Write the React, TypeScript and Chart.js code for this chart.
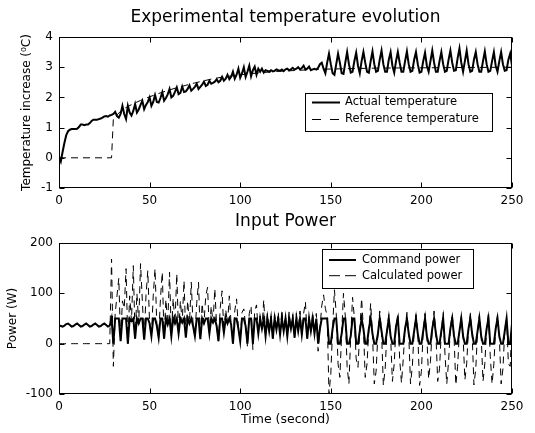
import React, { useEffect, useRef } from "react";
import { Chart, registerables } from "chart.js";

Chart.register(...registerables);

const FONT = "'DejaVu Sans', 'Liberation Sans', Arial, sans-serif";

// sampling grid, seconds (1 s sampling)
const TIME_S: number[] = Array.from({ length: 251 }, (_, i) => i);

const X_TICKS = [0, 50, 100, 150, 200, 250];
const TEMP_TICKS = [-1, 0, 1, 2, 3, 4];
const POWER_TICKS = [-100, 0, 100, 200];

// Actual temperature increase (°C), one value per second 0..250
const ACTUAL_TEMP = [
  0.05, -0.12, 0.2, 0.5, 0.75, 0.88, 0.93, 0.95, 0.95, 0.95,
  0.96, 1.02, 1.1, 1.1, 1.08, 1.1, 1.1, 1.15, 1.22, 1.26,
  1.26, 1.26, 1.28, 1.3, 1.33, 1.37, 1.38, 1.36, 1.4, 1.42,
  1.45, 1.52, 1.38, 1.33, 1.45, 1.72, 1.45, 1.28, 1.72, 1.5,
  1.4, 1.55, 1.78, 1.5, 1.6, 1.75, 1.89, 1.61, 1.75, 1.85,
  2.0, 1.72, 1.85, 2.08, 1.85, 1.83, 1.98, 2.17, 1.89, 1.98,
  2.1, 2.28, 2.0, 2.05, 2.18, 2.33, 2.11, 2.15, 2.36, 2.18,
  2.2, 2.28, 2.4, 2.22, 2.28, 2.35, 2.45, 2.28, 2.35, 2.42,
  2.52, 2.38, 2.42, 2.55, 2.45, 2.48, 2.52, 2.6, 2.5, 2.55,
  2.68, 2.55, 2.62, 2.75, 2.6, 2.68, 2.85, 2.62, 2.75, 2.95,
  2.65, 2.8, 3.0, 2.68, 2.85, 3.05, 2.7, 2.9, 3.02, 2.75,
  2.95, 2.85, 2.95, 2.82, 2.9, 2.88, 2.85, 2.9, 2.86, 2.88,
  2.93, 2.9, 2.88, 2.92, 2.87, 2.93, 2.95, 2.9, 2.93, 2.98,
  2.92, 2.95, 3.0, 2.93, 2.97, 3.05, 2.92, 2.95, 3.02, 2.9,
  2.93, 2.95, 2.92, 2.98, 3.1, 3.15, 2.95, 2.8, 3.15, 3.45,
  3.1, 2.8, 2.75, 3.1, 3.45, 3.15, 2.8, 2.78, 3.15, 3.5,
  3.1, 2.82, 2.85, 3.2, 3.48, 3.05, 2.8, 3.2, 3.5, 3.15,
  2.85, 2.82, 3.2, 3.52, 3.1, 2.85, 2.88, 3.25, 3.55, 3.1,
  2.85, 2.85, 3.25, 3.5, 3.05, 2.82, 3.2, 3.5, 3.15, 2.85,
  2.85, 3.2, 3.52, 3.1, 2.85, 2.88, 3.25, 3.5, 3.1, 2.82,
  2.85, 3.2, 3.48, 3.05, 2.85, 3.2, 3.55, 3.15, 2.85, 2.85,
  3.2, 3.5, 3.1, 2.85, 2.88, 3.25, 3.55, 3.15, 2.88, 2.9,
  3.3, 3.62, 3.15, 2.85, 3.2, 3.55, 3.1, 2.85, 2.88, 3.25,
  3.5, 3.1, 2.85, 2.85, 3.2, 3.52, 3.1, 2.85, 2.88, 3.2,
  3.5, 3.05, 2.85, 3.2, 3.5, 3.1, 2.88, 2.9, 3.25, 3.45,
  3.05,
];

// Reference temperature (°C)
const REF_TIME = [0, 29, 30, 35, 40, 45, 50, 55, 60, 65, 70, 75, 80, 85, 90, 95, 100, 110, 120, 130, 140, 150, 175, 200, 225, 250];
const REF_TEMP = [0, 0, 1.3, 1.6, 1.76, 1.9, 2.02, 2.13, 2.23, 2.32, 2.4, 2.48, 2.55, 2.62, 2.67, 2.71, 2.75, 2.81, 2.86, 2.89, 2.92, 2.94, 2.97, 2.98, 2.99, 3.0];

// Command power (W), one value per second 0..250
const COMMAND_POWER = [
  37, 35, 34, 36, 39, 40, 37, 34, 35, 38,
  40, 37, 34, 35, 38, 40, 37, 34, 35, 38,
  40, 37, 34, 35, 38, 40, 37, 34, 36, 50,
  0, 50, 50, 50, 5, 50, 50, 50, 0, 50,
  45, 50, 10, 50, 40, 50, 50, 8, 50, 50,
  40, 15, 50, 50, 35, 12, 50, 50, 10, 50,
  38, 50, 15, 50, 40, 50, 20, 50, 42, 50,
  12, 50, 40, 50, 35, 15, 50, 50, 9, 50,
  40, 50, 50, 20, 50, 42, 50, 35, 5, 50,
  50, 22, 50, 40, 50, 38, 0, 50, 50, 30,
  5, 50, 50, 35, 0, 50, 50, 0, 50, 50,
  20, 50, 30, 50, 15, 50, 25, 50, 10, 50,
  28, 50, 18, 50, 25, 50, 15, 50, 30, 50,
  12, 50, 25, 50, 18, 50, 50, 10, 50, 25,
  50, 20, 50, 0, 30, 50, 50, 50, 50, 0,
  0, 30, 50, 50, 0, 0, 20, 50, 50, 0,
  0, 15, 50, 50, 0, 0, 25, 50, 30, 0,
  0, 30, 50, 20, 0, 0, 20, 50, 25, 0,
  0, 25, 50, 15, 0, 0, 35, 50, 0, 0,
  0, 30, 50, 20, 0, 0, 25, 50, 20, 0,
  0, 25, 50, 15, 0, 0, 30, 50, 20, 0,
  0, 25, 50, 0, 0, 0, 30, 50, 15, 0,
  0, 25, 50, 15, 0, 0, 30, 50, 20, 0,
  0, 25, 50, 15, 0, 0, 30, 50, 0, 0,
  0, 30, 50, 15, 0, 0, 25, 50, 0, 0,
  40,
];

// Calculated power (W), one value per second 0..250
const CALC_POWER = [
  0, 0, 0, 0, 0, 0, 0, 0, 0, 0,
  0, 0, 0, 0, 0, 0, 0, 0, 0, 0,
  0, 0, 0, 0, 0, 0, 0, 0, 0, 168,
  -45, 60, 95, 130, 5, 85, 70, 149, 0, 95,
  45, 155, 10, 100, 40, 159, 85, 8, 95, 145,
  40, 15, 95, 149, 35, 12, 90, 142, 10, 88,
  38, 142, 15, 90, 40, 139, 20, 85, 42, 125,
  12, 85, 40, 122, 35, 15, 80, 122, 9, 80,
  40, 95, 112, 20, 75, 42, 109, 35, 5, 72,
  105, 22, 68, 40, 95, 38, 0, 65, 89, 30,
  5, 62, 69, 35, -5, 60, 75, -12, 65, 77,
  20, 55, 30, 87, 15, 60, 25, 55, 10, 58,
  28, 62, 18, 67, 25, 55, 15, 63, 30, 58,
  12, 60, 25, 65, 18, 60, 83, 10, 55, 25,
  62, 20, 60, -15, 30, 75, 97, 70, 55, -100,
  -60, 30, 107, 60, -40, -67, 20, 100, 55, -45,
  -80, 15, 92, 52, -30, -47, 25, 90, 30, -67,
  -40, 30, 80, 20, -80, -55, 20, 65, 25, -83,
  -50, 25, 58, 15, -75, -40, 35, 60, -30, -78,
  -30, 30, 62, 20, -80, -45, 25, 58, 20, -83,
  -55, 25, 60, 15, -70, -35, 30, 65, 20, -75,
  -50, 25, 62, -20, -80, -35, 30, 60, 15, -82,
  -45, 25, 55, 15, -72, -40, 30, 60, 20, -82,
  -50, 25, 58, 15, -75, -40, 30, 62, -25, -80,
  -40, 30, 58, 15, -80, -50, 25, 55, -40, -45,
  40,
];

const toXY = (xs: number[], ys: number[]) => xs.map((x, i) => ({ x, y: ys[i] }));

const frameLegendPlugin = {
  id: "frameLegend",
  afterDraw(chart: any, _args: any, opts: any) {
    const { ctx, chartArea: a, scales } = chart;
    ctx.save();
    ctx.strokeStyle = "#000";
    ctx.lineWidth = 1;
    ctx.setLineDash([]);
    const L = Math.round(a.left) + 0.5;
    const R = Math.round(a.right) - 0.5;
    const T = Math.round(a.top) + 0.5;
    const B = Math.round(a.bottom) - 0.5;
    ctx.strokeRect(L, T, R - L, B - T);
    const tl = 5;
    ctx.beginPath();
    for (const t of scales.x.ticks) {
      const px = Math.round(scales.x.getPixelForValue(t.value)) + 0.5;
      ctx.moveTo(px, B);
      ctx.lineTo(px, B - tl);
      ctx.moveTo(px, T);
      ctx.lineTo(px, T + tl);
    }
    for (const t of scales.y.ticks) {
      const py = Math.round(scales.y.getPixelForValue(t.value)) + 0.5;
      ctx.moveTo(L, py);
      ctx.lineTo(L + tl, py);
      ctx.moveTo(R, py);
      ctx.lineTo(R - tl, py);
    }
    ctx.stroke();

    const lg = opts && opts.legend;
    if (lg) {
      const [x1, y1, x2, y2] = lg.box;
      ctx.fillStyle = "#fff";
      ctx.fillRect(x1, y1, x2 - x1, y2 - y1);
      ctx.strokeStyle = "#000";
      ctx.lineWidth = 1;
      ctx.strokeRect(Math.round(x1) + 0.5, Math.round(y1) + 0.5, Math.round(x2 - x1), Math.round(y2 - y1));
      chart.data.datasets.forEach((ds: any, i: number) => {
        const y = lg.rows[i];
        ctx.beginPath();
        ctx.lineWidth = ds.borderWidth;
        ctx.setLineDash(ds.borderDash ? lg.dash : []);
        ctx.moveTo(lg.sampleX[0], y);
        ctx.lineTo(lg.sampleX[1], y);
        ctx.stroke();
        ctx.setLineDash([]);
        ctx.fillStyle = "#000";
        ctx.font = `${lg.fontSize}px ${FONT}`;
        ctx.textAlign = "left";
        ctx.textBaseline = "middle";
        ctx.fillText(ds.label, lg.textX, y);
      });
    }
    ctx.restore();
  },
};

function axisX(height: number, title?: any) {
  return {
    type: "linear",
    min: 0,
    max: 250,
    afterBuildTicks: (s: any) => {
      s.ticks = X_TICKS.map((v) => ({ value: v }));
    },
    afterFit: (s: any) => {
      s.height = height;
    },
    grid: { display: false, drawTicks: false },
    border: { display: false },
    ticks: { font: { family: FONT, size: 12 }, color: "#000", padding: 6, maxRotation: 0, autoSkip: false },
    title: title || { display: false },
  };
}

function axisY(min: number, max: number, ticks: number[], title: any) {
  return {
    type: "linear",
    min,
    max,
    afterBuildTicks: (s: any) => {
      s.ticks = ticks.map((v) => ({ value: v }));
    },
    afterFit: (s: any) => {
      s.width = 59;
    },
    grid: { display: false, drawTicks: false },
    border: { display: false },
    ticks: { font: { family: FONT, size: 12 }, color: "#000", padding: 6, autoSkip: false },
    title,
  };
}

function topConfig(): any {
  return {
    type: "line",
    data: {
      datasets: [
        {
          label: "Actual temperature",
          data: toXY(TIME_S, ACTUAL_TEMP),
          borderColor: "#000",
          borderWidth: 2,
          pointRadius: 0,
          tension: 0,
          fill: false,
        },
        {
          label: "Reference temperature",
          data: toXY(REF_TIME, REF_TEMP),
          borderColor: "#000",
          borderWidth: 1,
          borderDash: [7, 5],
          pointRadius: 0,
          tension: 0,
          fill: false,
        },
      ],
    },
    options: {
      animation: false,
      responsive: false,
      maintainAspectRatio: false,
      events: [],
      layout: { padding: { left: 0, right: 23, top: 0, bottom: 0 } },
      plugins: {
        legend: { display: false },
        tooltip: { enabled: false },
        title: {
          display: true,
          text: "Experimental temperature evolution",
          fullSize: false,
          color: "#000",
          font: { family: FONT, size: 17, weight: "normal" },
          padding: { top: 7, bottom: 9.6 },
        },
        frameLegend: {
          legend: {
            box: [305, 93, 492, 131],
            rows: [102.5, 119.5],
            sampleX: [312, 340],
            textX: 345,
            dash: [9, 9],
            fontSize: 11.5,
          },
        },
      },
      scales: {
        x: axisX(22),
        y: axisY(-1, 4, TEMP_TICKS, {
          display: true,
          text: "Temperature increase (⁰C)",
          color: "#000",
          font: { family: FONT, size: 12 },
          padding: { top: 19.7, bottom: 0 },
        }),
      },
    },
    plugins: [frameLegendPlugin],
  };
}

function bottomConfig(): any {
  return {
    type: "line",
    data: {
      datasets: [
        {
          label: "Command power",
          data: toXY(TIME_S, COMMAND_POWER),
          borderColor: "#000",
          borderWidth: 2,
          pointRadius: 0,
          tension: 0,
          fill: false,
        },
        {
          label: "Calculated power",
          data: toXY(TIME_S, CALC_POWER),
          borderColor: "#000",
          borderWidth: 1,
          borderDash: [7, 5],
          pointRadius: 0,
          tension: 0,
          fill: false,
        },
      ],
    },
    options: {
      animation: false,
      responsive: false,
      maintainAspectRatio: false,
      events: [],
      layout: { padding: { left: 0, right: 23, top: 0, bottom: 0 } },
      plugins: {
        legend: { display: false },
        tooltip: { enabled: false },
        title: {
          display: true,
          text: "Input Power",
          fullSize: false,
          color: "#000",
          font: { family: FONT, size: 17, weight: "normal" },
          padding: { top: 1, bottom: 11.6 },
        },
        frameLegend: {
          legend: {
            box: [322, 39, 473, 77.5],
            rows: [50, 65.7],
            sampleX: [329, 356],
            textX: 362,
            dash: [11, 5],
            fontSize: 11.5,
          },
        },
      },
      scales: {
        x: axisX(39, {
          display: true,
          text: "Time (second)",
          color: "#000",
          font: { family: FONT, size: 12.5 },
          padding: { top: 0, bottom: 5.5 },
        }),
        y: axisY(-100, 200, POWER_TICKS, {
          display: true,
          text: "Power (W)",
          color: "#000",
          font: { family: FONT, size: 12 },
          padding: { top: 5.5, bottom: 0 },
        }),
      },
    },
    plugins: [frameLegendPlugin],
  };
}

export default function App() {
  const topRef = useRef<HTMLCanvasElement>(null);
  const botRef = useRef<HTMLCanvasElement>(null);

  useEffect(() => {
    const c1 = new Chart(topRef.current as HTMLCanvasElement, topConfig());
    const c2 = new Chart(botRef.current as HTMLCanvasElement, bottomConfig());
    return () => {
      c1.destroy();
      c2.destroy();
    };
  }, []);

  return (
    <div style={{ position: "fixed", left: 0, top: 0, width: 535, height: 433, background: "#fff" }}>
      <canvas
        ref={topRef}
        width={535}
        height={210}
        style={{ position: "absolute", left: 0, top: 0, width: 535, height: 210 }}
      />
      <canvas
        ref={botRef}
        width={535}
        height={223}
        style={{ position: "absolute", left: 0, top: 210, width: 535, height: 223 }}
      />
    </div>
  );
}
